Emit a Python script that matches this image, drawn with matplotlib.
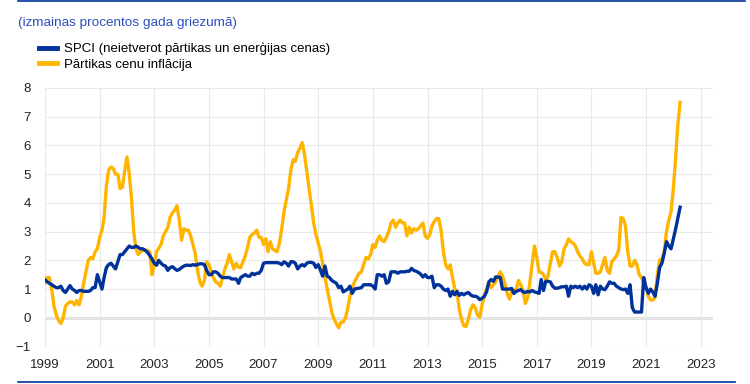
import numpy as np
import pandas as pd
import matplotlib
matplotlib.use('Agg')
import matplotlib.pyplot as plt
import matplotlib.dates as mdates
from matplotlib.lines import Line2D

plt.rcParams['font.family'] = ['Liberation Sans', 'DejaVu Sans']

# monthly values, Jan 1999 .. Apr 2022 (one row per year)
spci = [
    1.32, 1.25, 1.2, 1.15, 1.1, 1.05, 1.05, 1.1, 0.95, 0.88, 1.0, 1.12,   # 1999
    1.0, 0.95, 0.88, 0.95, 0.95, 0.92, 0.92, 0.92, 0.95, 1.05, 1.05, 1.5,  # 2000
    1.25, 1.0, 1.4, 1.75, 1.85, 1.9, 1.8, 1.7, 1.95, 2.2, 2.2, 2.3,        # 2001
    2.4, 2.5, 2.45, 2.45, 2.5, 2.45, 2.4, 2.4, 2.35, 2.28, 2.17, 2.05,     # 2002
    1.9, 1.83, 2.0, 1.9, 1.83, 1.8, 1.65, 1.75, 1.78, 1.71, 1.65, 1.68,    # 2003
    1.75, 1.8, 1.83, 1.83, 1.82, 1.85, 1.83, 1.85, 1.88, 1.88, 1.85, 1.65, # 2004
    1.5, 1.5, 1.6, 1.6, 1.55, 1.45, 1.4, 1.4, 1.4, 1.4, 1.35, 1.35,        # 2005
    1.35, 1.2, 1.4, 1.45, 1.5, 1.45, 1.45, 1.55, 1.5, 1.55, 1.55, 1.65,    # 2006
    1.9, 1.92, 1.92, 1.92, 1.92, 1.92, 1.92, 1.9, 1.85, 1.95, 1.9, 1.8,    # 2007
    1.95, 1.95, 1.9, 1.7, 1.8, 1.85, 1.8, 1.9, 1.93, 1.93, 1.9, 1.75,      # 2008
    1.85, 1.65, 1.45, 1.8, 1.45, 1.4, 1.3, 1.25, 1.2, 1.05, 1.1, 0.9,      # 2009
    0.95, 1.0, 1.1, 0.85, 1.0, 1.02, 1.03, 1.05, 1.15, 1.15, 1.15, 1.15,   # 2010
    1.1, 1.0, 1.5, 1.5, 1.45, 1.5, 1.2, 1.25, 1.6, 1.6, 1.6, 1.55,         # 2011
    1.6, 1.6, 1.6, 1.62, 1.62, 1.72, 1.65, 1.62, 1.58, 1.52, 1.42, 1.5,    # 2012
    1.4, 1.4, 1.45, 1.05, 1.15, 1.15, 1.1, 1.0, 0.95, 1.0, 0.75, 0.92,     # 2013
    0.8, 0.92, 0.78, 0.85, 0.8, 0.85, 0.88, 0.8, 0.75, 0.75, 0.72, 0.63,   # 2014
    0.68, 0.75, 0.9, 1.25, 1.33, 1.27, 1.42, 1.42, 1.4, 1.0, 1.0, 1.0,     # 2015
    1.0, 1.02, 0.85, 0.92, 0.95, 0.98, 0.9, 0.88, 0.92, 0.9, 0.95, 0.9,    # 2016
    0.88, 0.85, 1.33, 0.95, 1.27, 1.27, 1.25, 1.1, 1.03, 1.03, 1.05, 1.08, # 2017
    1.08, 1.1, 0.75, 1.1, 1.05, 1.1, 1.05, 1.1, 1.0, 1.1, 1.0, 1.15,       # 2018
    1.1, 0.85, 1.15, 0.8, 1.1, 1.0, 0.98, 1.1, 1.25, 1.2, 1.2, 1.1,        # 2019
    1.05, 1.0, 0.98, 1.0, 0.85, 1.15, 0.35, 0.2, 0.2, 0.2, 0.2, 1.4,       # 2020
    1.05, 0.85, 1.0, 0.9, 0.75, 1.2, 1.75, 1.9, 2.25, 2.65, 2.5, 2.4,      # 2021
    2.75, 3.1, 3.45, 3.85,                                                 # 2022
]

food = [
    1.2, 1.4, 1.4, 1.0, 0.4, 0.1, -0.1, -0.2, 0.0, 0.4, 0.5, 0.55,        # 1999
    0.55, 0.45, 0.6, 0.45, 0.75, 1.2, 1.6, 2.0, 2.1, 2.05, 2.3, 2.4,       # 2000
    2.8, 3.05, 3.5, 4.6, 5.15, 5.25, 5.2, 5.0, 5.0, 4.5, 4.55, 5.1,        # 2001
    5.6, 5.0, 4.2, 3.0, 2.4, 2.2, 2.3, 2.35, 2.35, 2.35, 2.3, 1.5,         # 2002
    1.85, 2.3, 2.42, 2.55, 2.85, 3.0, 3.15, 3.5, 3.65, 3.75, 3.9, 3.4,     # 2003
    2.7, 3.1, 3.05, 3.05, 2.85, 2.55, 2.25, 1.65, 1.25, 1.1, 1.3, 1.95,    # 2004
    1.85, 1.6, 1.4, 1.25, 1.2, 1.1, 1.4, 1.7, 1.9, 2.2, 1.95, 1.7,         # 2005
    1.9, 1.75, 1.75, 1.95, 2.15, 2.45, 2.8, 2.9, 2.95, 3.05, 2.8, 2.8,     # 2006
    2.55, 2.75, 2.3, 2.65, 2.4, 2.35, 2.3, 2.6, 3.1, 3.7, 4.1, 4.5,        # 2007
    5.15, 5.5, 5.45, 5.75, 5.9, 6.1, 5.7, 5.1, 4.5, 3.9, 3.3, 2.9,         # 2008
    2.6, 2.3, 1.9, 1.4, 1.0, 0.6, 0.2, -0.05, -0.2, -0.35, -0.15, -0.15,   # 2009
    0.0, 0.35, 0.75, 1.05, 1.25, 1.4, 1.55, 1.6, 1.85, 2.1, 2.05, 2.2,     # 2010
    2.55, 2.45, 2.7, 2.85, 2.7, 2.65, 2.8, 3.0, 3.3, 3.4, 3.15, 3.3,       # 2011
    3.4, 3.3, 3.3, 2.85, 3.15, 2.95, 3.1, 3.05, 3.1, 3.2, 3.3, 2.85,       # 2012
    2.77, 2.9, 3.2, 3.35, 3.45, 3.45, 3.05, 2.3, 1.85, 1.7, 1.84, 1.4,     # 2013
    1.0, 0.9, 0.3, -0.05, -0.28, -0.3, -0.05, 0.28, 0.45, 0.35, 0.1, 0.02, # 2014
    0.45, 0.8, 1.0, 1.2, 1.05, 1.15, 1.25, 1.45, 1.6, 1.45, 1.2, 0.85,     # 2015
    0.65, 0.9, 0.95, 1.0, 1.3, 1.15, 0.95, 0.5, 0.7, 1.25, 1.9, 2.5,       # 2016
    2.1, 1.6, 1.58, 1.5, 1.32, 1.45, 1.9, 2.3, 2.3, 2.1, 1.8, 1.95,        # 2017
    2.4, 2.55, 2.75, 2.65, 2.6, 2.5, 2.3, 2.15, 2.05, 1.9, 1.85, 1.85,     # 2018
    2.3, 1.9, 1.55, 1.55, 1.6, 1.85, 2.1, 1.65, 1.55, 1.95, 2.05, 2.15,    # 2019
    2.35, 3.5, 3.45, 3.2, 2.3, 1.8, 1.8, 2.0, 1.85, 1.5, 1.4, 1.2,         # 2020
    1.05, 0.75, 0.62, 0.62, 0.7, 1.5, 2.0, 2.05, 2.3, 3.0, 3.4, 3.7,       # 2021
    4.5, 5.6, 6.7, 7.5,                                                    # 2022
]

labels = ['SPCI (neietverot pārtikas un enerģijas cenas)', 'Pārtikas cenu inflācija']
subtitle = '(izmaiņas procentos gada griezumā)'
years = list(range(1999, 2024, 2))
yticks = list(range(-1, 9))

dates = pd.date_range('1999-01-01', periods=len(spci), freq='MS')

blue = '#003299'
yellow = '#ffb400'

fig = plt.figure(figsize=(7.5, 3.84), dpi=100)
ax = fig.add_axes([45/750, 1-346.5/384, (713-45)/750, (346.5-88)/384])

ax.plot(dates, food, color=yellow, lw=2.4, solid_joinstyle='round', zorder=3)
ax.plot(dates, spci, color=blue, lw=2.4, solid_joinstyle='round', zorder=4)
ax.axhline(0, color='#dddddd', lw=2, zorder=1)

ax.set_xlim(pd.Timestamp('1999-01-01'), pd.Timestamp('2023-06-15'))
ax.set_ylim(-1, 8)
ax.set_xticks([pd.Timestamp(f'{y}-01-01') for y in years])
ax.xaxis.set_major_formatter(mdates.DateFormatter('%Y'))
ax.set_yticks(yticks)
ax.grid(True, color='#e9e9e9', lw=0.8, zorder=0)
ax.tick_params(length=0, labelsize=9.5, colors='#222222')
ax.tick_params(axis='x', pad=9)
ax.tick_params(axis='y', pad=10)
for s in ax.spines.values():
    s.set_visible(False)

fig.text(18/750, 1-23/384, subtitle, color='#2b4fbd', fontsize=9.7, va='center')

handles = [Line2D([], [], color=blue, lw=3.5), Line2D([], [], color=yellow, lw=3.5)]
fig.legend(handles, labels, loc='upper left', bbox_to_anchor=(39/750, 1-42/384),
           frameon=False, fontsize=9.5, handlelength=1.4, handletextpad=0.5,
           labelspacing=0.25, borderpad=0, borderaxespad=0)

fig.add_artist(Line2D([18/750, 745/750], [1-1/384, 1-1/384], color=blue, lw=1.2))
fig.add_artist(Line2D([18/750, 735/750], [1-382/384, 1-382/384], color=blue, lw=1.2))

fig.savefig('out.png', dpi=100)
